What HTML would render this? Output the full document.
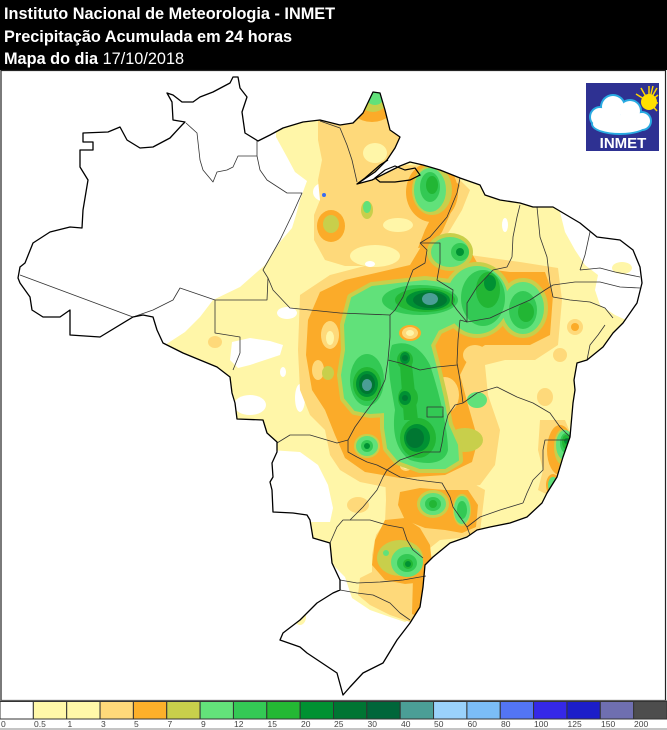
<!DOCTYPE html>
<html><head><meta charset="utf-8"><style>
html,body{margin:0;padding:0;background:#fff;}
svg{display:block;}
</style></head><body>
<svg width="667" height="730" viewBox="0 0 667 730" xmlns="http://www.w3.org/2000/svg">
<defs>
<polygon id="br" points="18,278 20,267 25,263 33,243 50,232 70,227 82,228 83,210 88,180 80,167 80,150 93,150 93,142 83,142 83,133 108,132 120,127 127,140 140,148 153,147 170,138 182,125 185,122 173,120 172,102 167,93 173,95 182,102 193,102 200,97 213,92 230,83 233,77 238,77 240,88 247,97 242,112 245,133 258,141 270,135 283,128 303,122 320,120 340,125 353,123 363,113 373,92 380,93 385,110 390,130 400,137 395,148 387,160 375,172 357,184 372,180 388,172 400,166 410,162 423,165 440,170 460,178 480,185 485,195 500,200 520,203 533,207 553,207 580,223 597,237 620,240 633,250 640,267 642,283 637,303 623,323 613,333 603,347 587,360 577,363 574,380 575,390 573,403 570,437 563,457 557,477 547,493 542,503 527,517 510,523 490,527 477,530 467,537 450,543 433,557 425,565 423,587 420,607 410,623 397,640 383,663 363,673 350,687 343,695 337,673 307,653 300,647 280,640 283,633 300,620 317,603 333,593 340,590 340,580 332,563 330,543 313,538 310,520 307,515 293,513 273,512 272,490 270,482 273,477 272,463 277,452 277,442 267,433 263,420 237,419 235,403 232,393 230,377 217,367 200,360 183,353 163,343 157,330 153,317 143,315 133,317 100,337 70,335 70,310 60,317 43,317 32,310 30,297 20,283"/>
<clipPath id="clip"><use href="#br"/></clipPath>
<path id="gmain" d="M352,298 L372,287 L398,284 L425,281 L450,284 L465,295 L466,312 L455,322 L438,330 L430,345 L436,368 L443,398 L448,425 L457,445 L458,460 L445,468 L420,468 L398,460 L388,448 L385,428 L385,412 L370,413 L355,410 L345,398 L342,375 L346,350 L345,325 Z"/>
<ellipse id="gtb" cx="477" cy="300" rx="30" ry="33"/>
<ellipse id="gpi" cx="523" cy="308" rx="20" ry="25"/>
</defs>

<!-- header -->
<rect x="0" y="0" width="667" height="70" fill="#000"/>
<g font-family="'Liberation Sans', Arial, sans-serif" font-size="16.3" fill="#fff" font-weight="bold">
<text x="4" y="19">Instituto Nacional de Meteorologia - INMET</text>
<text x="4" y="42">Precipitação Acumulada em 24 horas</text>
<text x="4" y="64">Mapa do dia <tspan font-weight="normal">17/10/2018</tspan></text>
</g>

<!-- map -->
<g clip-path="url(#clip)">
<rect x="0" y="70" width="667" height="630" fill="#fff6a8"/>
<!-- white NW -->
<path fill="#fff" d="M0,60 L276,60 L276,137 L287,157 L295,172 L307,181 L300,200 L296,215 L292,228 L280,242 L265,265 L240,287 L213,300 L200,317 L185,332 L165,345 L150,360 L0,360 Z"/>
<ellipse cx="323" cy="192" rx="10" ry="9" fill="#fff"/>
<ellipse cx="287" cy="313" rx="10" ry="6" fill="#fff"/>
<path fill="#fff" d="M232,342 L250,338 L270,341 L283,345 L280,355 L265,360 L250,365 L238,368 L230,360 Z"/>
<ellipse cx="283" cy="372" rx="3" ry="5" fill="#fff"/>
<ellipse cx="250" cy="405" rx="16" ry="10" fill="#fff"/>
<ellipse cx="300" cy="398" rx="5" ry="14" fill="#fff"/>
<path fill="#fff" d="M270,450 L300,452 L318,465 L328,485 L333,508 L330,522 L305,522 L272,512 Z"/>
<path fill="#fff" d="M270,620 L330,562 L345,577 L352,598 L370,610 L390,617 L405,622 L417,616 L428,640 L428,720 L270,720 Z"/>
<ellipse cx="300" cy="617" rx="6" ry="8" fill="#fff6a8"/>
<path fill="#fff" d="M560,212 L580,222 L598,237 L620,240 L633,250 L640,267 L642,283 L637,303 L626,320 L615,315 L600,305 L595,290 L598,275 L585,265 L575,250 L565,232 Z"/>
<ellipse cx="622" cy="268" rx="10" ry="6" fill="#fff6a8"/>
<ellipse cx="505" cy="225" rx="3" ry="7" fill="#fff"/>

<!-- light orange -->
<g fill="#fed97a">
<path d="M318,118 L345,118 L365,108 L375,90 L392,120 L402,140 L395,160 L380,176 L405,165 L430,166 L455,175 L470,190 L462,210 L450,230 L440,245 L425,255 L400,262 L370,266 L345,266 L325,260 L314,240 L314,215 L320,200 L318,180 L322,160 L318,140 Z"/>
<path d="M300,295 L330,275 L380,262 L430,250 L470,255 L520,262 L558,268 L562,300 L558,345 L535,360 L505,360 L485,365 L488,395 L500,430 L495,465 L480,485 L440,490 L400,490 L360,482 L340,470 L330,455 L325,430 L310,415 L300,390 L298,350 Z"/>
<path d="M385,470 L430,472 L470,482 L485,490 L480,532 L460,538 L440,540 L430,548 L433,565 L428,590 L425,615 L410,622 L390,615 L370,605 L358,595 L360,578 L372,572 L372,555 L376,535 L385,522 L386,500 Z"/>
<path d="M540,420 L565,420 L572,437 L563,460 L557,480 L548,495 L538,490 L543,470 L538,450 Z"/>
<ellipse cx="215" cy="342" rx="7" ry="6"/>
<ellipse cx="545" cy="397" rx="8" ry="9"/>
<ellipse cx="560" cy="355" rx="7" ry="7"/>
<ellipse cx="575" cy="327" rx="8" ry="8"/>
<ellipse cx="358" cy="505" rx="11" ry="8"/>
<ellipse cx="370" cy="470" rx="14" ry="8"/>
</g>
<g fill="#fff6a8">
<ellipse cx="375" cy="153" rx="12" ry="10"/>
<ellipse cx="398" cy="225" rx="15" ry="7"/>
<ellipse cx="375" cy="256" rx="25" ry="11"/>
<ellipse cx="400" cy="550" rx="4" ry="4"/>
</g>
<ellipse cx="370" cy="264" rx="5" ry="3" fill="#fff"/>

<!-- orange -->
<g fill="#fbab29">
<ellipse cx="372" cy="100" rx="25" ry="22"/>
<ellipse cx="331" cy="226" rx="14" ry="16"/>
<ellipse cx="432" cy="192" rx="26" ry="30"/>
<path d="M445,175 L460,185 L452,210 L442,232 L432,246 L418,248 L425,230 L435,210 Z"/>
<path d="M308,320 L320,292 L345,280 L380,272 L410,265 L425,240 L445,235 L470,250 L480,268 L510,272 L545,272 L553,295 L550,335 L530,345 L505,345 L485,345 L470,355 L460,375 L468,405 L478,440 L472,462 L445,475 L400,478 L365,472 L345,458 L335,435 L325,410 L312,390 L306,355 Z"/>
<path d="M400,492 L420,488 L445,490 L468,490 L478,505 L476,527 L462,533 L445,530 L425,528 L405,520 L398,505 Z"/>
<path d="M385,520 L405,518 L420,528 L430,545 L432,565 L425,582 L405,584 L385,580 L372,565 L375,540 Z"/>
<path d="M413,578 L426,578 L423,600 L420,617 L412,614 Z"/>
<ellipse cx="560" cy="450" rx="13" ry="25"/>
<ellipse cx="575" cy="327" rx="4" ry="4"/>
<ellipse cx="553" cy="485" rx="7" ry="11"/>
</g>
<!-- light patches inside orange -->
<g fill="#fed97a">
<ellipse cx="445" cy="395" rx="14" ry="18"/>
<ellipse cx="475" cy="355" rx="12" ry="10"/>
<ellipse cx="330" cy="335" rx="9" ry="14"/>
<ellipse cx="318" cy="370" rx="6" ry="10"/>
<ellipse cx="500" cy="265" rx="10" ry="5"/>
<ellipse cx="406" cy="466" rx="6" ry="5"/>
</g>
<g fill="#fff6a8">
<ellipse cx="440" cy="400" rx="8" ry="10"/>
<ellipse cx="495" cy="390" rx="7" ry="14"/>
<ellipse cx="330" cy="338" rx="4" ry="7"/>
<ellipse cx="406" cy="466" rx="3" ry="3"/>
</g>

<!-- olive -->
<g fill="#c8cf4b">
<ellipse cx="373" cy="96" rx="16" ry="16"/>
<ellipse cx="331" cy="224" rx="8" ry="9"/>
<ellipse cx="367" cy="210" rx="6" ry="9"/>
<ellipse cx="432" cy="190" rx="20" ry="25"/>
<ellipse cx="450" cy="252" rx="23" ry="19"/>
<ellipse cx="465" cy="440" rx="18" ry="12"/>
<ellipse cx="563" cy="447" rx="9" ry="18"/>
<ellipse cx="400" cy="558" rx="23" ry="18"/>
<ellipse cx="328" cy="373" rx="6" ry="7"/>
<ellipse cx="367" cy="446" rx="13" ry="12"/>
<ellipse cx="433" cy="504" rx="16" ry="14"/>
<ellipse cx="462" cy="510" rx="9" ry="16"/>
</g>
<g fill="#c8cf4b" stroke="#c8cf4b" stroke-width="10" stroke-linejoin="round">
<use href="#gmain"/><use href="#gtb"/><use href="#gpi"/>
</g>

<!-- green1 -->
<g fill="#61e17a" stroke="#61e17a" stroke-width="2" stroke-linejoin="round">
<use href="#gmain"/><use href="#gtb"/><use href="#gpi"/>
<ellipse cx="375" cy="92" rx="10" ry="12"/>
<ellipse cx="367" cy="207" rx="3" ry="5"/>
<ellipse cx="430" cy="190" rx="15" ry="21"/>
<ellipse cx="450" cy="252" rx="18" ry="14"/>
<ellipse cx="477" cy="400" rx="9" ry="7"/>
<ellipse cx="565" cy="445" rx="8" ry="14"/>
<ellipse cx="553" cy="485" rx="4" ry="7"/>
<ellipse cx="433" cy="504" rx="12" ry="10"/>
<ellipse cx="462" cy="510" rx="7" ry="13"/>
<ellipse cx="407" cy="562" rx="15" ry="14"/>
<ellipse cx="386" cy="553" rx="2" ry="2"/>
<ellipse cx="367" cy="446" rx="10" ry="9"/>
</g>
<!-- light patch between -->
<ellipse cx="410" cy="333" rx="11" ry="8" fill="#fbab29"/>
<ellipse cx="410" cy="333" rx="8" ry="6" fill="#fed97a"/>
<ellipse cx="410" cy="333" rx="4" ry="3" fill="#fff6a8"/>

<!-- green2 -->
<g fill="#33c954">
<ellipse cx="430" cy="187" rx="10" ry="15"/>
<ellipse cx="460" cy="252" rx="9" ry="9"/>
<ellipse cx="420" cy="300" rx="38" ry="15"/>
<ellipse cx="367" cy="380" rx="17" ry="26"/>
<path d="M392,345 C405,340 420,345 430,365 C440,395 448,430 448,450 C445,465 425,465 410,460 C395,450 392,430 395,410 C392,390 385,365 392,345 Z"/>
<ellipse cx="483" cy="298" rx="22" ry="28"/>
<ellipse cx="523" cy="310" rx="14" ry="19"/>
<ellipse cx="433" cy="504" rx="8" ry="7"/>
<ellipse cx="462" cy="510" rx="5" ry="9"/>
<ellipse cx="407" cy="563" rx="10" ry="9"/>
<ellipse cx="367" cy="446" rx="6" ry="6"/>
<ellipse cx="566" cy="443" rx="6" ry="10"/>
</g>
<!-- green3 -->
<g fill="#22b634">
<ellipse cx="432" cy="185" rx="6" ry="9"/>
<ellipse cx="425" cy="300" rx="30" ry="12"/>
<ellipse cx="367" cy="384" rx="14" ry="17"/>
<ellipse cx="405" cy="360" rx="8" ry="9"/>
<ellipse cx="408" cy="398" rx="10" ry="12"/>
<ellipse cx="418" cy="438" rx="18" ry="20"/>
<path d="M400,365 L412,365 L418,420 L404,420 Z"/>
<ellipse cx="488" cy="290" rx="12" ry="18"/>
<ellipse cx="526" cy="312" rx="8" ry="10"/>
<ellipse cx="433" cy="504" rx="4" ry="4"/>
<ellipse cx="566" cy="442" rx="4" ry="7"/>
<ellipse cx="408" cy="564" rx="5" ry="5"/>
</g>
<!-- green4 -->
<g fill="#009133">
<ellipse cx="428" cy="300" rx="22" ry="10"/>
<ellipse cx="367" cy="384" rx="11" ry="13"/>
<ellipse cx="405" cy="358" rx="5" ry="6"/>
<ellipse cx="405" cy="398" rx="6" ry="7"/>
<ellipse cx="417" cy="438" rx="13" ry="14"/>
<ellipse cx="490" cy="283" rx="6" ry="8"/>
<ellipse cx="408" cy="564" rx="3" ry="3"/>
<ellipse cx="460" cy="252" rx="4" ry="4"/>
<ellipse cx="367" cy="446" rx="3" ry="3"/>
<ellipse cx="567" cy="441" rx="3" ry="3"/>
</g>
<!-- green5 -->
<g fill="#007732">
<ellipse cx="430" cy="300" rx="17" ry="8"/>
<ellipse cx="367" cy="384" rx="8" ry="10"/>
<ellipse cx="405" cy="358" rx="3" ry="3"/>
<ellipse cx="405" cy="398" rx="3" ry="3"/>
<ellipse cx="415" cy="438" rx="9" ry="10"/>
</g>
<g fill="#4b9e96">
<ellipse cx="430" cy="299" rx="8" ry="6"/>
<ellipse cx="367" cy="385" rx="5" ry="6"/>
</g>
<circle cx="324" cy="195" r="2" fill="#3a6cf0"/>
</g>

<!-- state borders -->
<g fill="none" stroke="#333" stroke-width="0.8" stroke-linejoin="round">
<polyline points="20,275 133,317"/>
<polyline points="133,317 153,310 173,300 180,288 215,300"/>
<polyline points="186,123 197,133 200,160 203,170 213,182 217,172 227,170 233,167 238,156 257,156 257,141"/>
<polyline points="257,156 260,170 267,180 287,193 302,193 293,213 280,240 263,270 268,278 273,290 290,308 340,313 390,315"/>
<polyline points="268,278 267,300 215,300 215,333 240,337 240,353 233,370"/>
<polyline points="320,121 340,128 347,145 352,160 357,182"/>
<polyline points="460,178 457,193 447,217 430,237 420,243"/>
<polyline points="420,243 427,250 425,263 413,270 408,283 403,297 395,310 390,315 390,337 388,360 385,380 377,397 365,413 355,427 348,440 348,452 357,457 367,462 377,465 387,470"/>
<polyline points="420,243 440,243 440,263 437,280 453,290 452,303 457,310 467,322"/>
<polyline points="520,205 517,217 513,237 512,257 507,267 493,270 477,287 467,303 467,322"/>
<polyline points="537,207 540,237 547,257 550,283 553,297"/>
<polyline points="460,320 467,322 490,318 507,310 530,300 545,290 553,285"/>
<polyline points="553,297 570,300 590,302 605,308 613,318"/>
<polyline points="460,320 458,340 457,363 460,380 462,395 463,403"/>
<polyline points="388,360 400,363 420,370 437,367 457,365"/>
<polyline points="463,403 455,405 448,415 444,430 442,443 440,452 423,452 400,460 387,470"/>
<polyline points="463,403 477,393 497,387 517,397 533,403 550,413 560,427 570,437"/>
<polyline points="568,440 545,440 543,450 543,470 533,480 527,493 523,503"/>
<polyline points="523,503 500,510 480,517 467,527 460,517 453,507 450,497 442,483 417,480 400,477 387,470"/>
<polyline points="387,470 383,477 377,490 363,507 355,515 350,520 343,520 337,527 330,543"/>
<polyline points="350,520 370,520 387,525 403,528 407,540 413,550 423,558"/>
<polyline points="340,580 357,583 380,582 403,580 420,577 426,576"/>
<polyline points="340,590 357,593 373,595 390,603 400,613 410,620"/>
<polyline points="277,443 290,435 310,435 337,443 348,440"/>
<polyline points="467,527 470,535"/>
<polygon points="427,407 443,407 443,417 427,417"/>
<polyline points="590,232 585,255 580,270"/>
<polyline points="580,270 600,268 615,272 640,277"/>
<polyline points="553,285 575,282 600,282 620,287 640,288"/>
<polyline points="605,325 598,335 590,345 587,360"/>
</g>
<!-- delta islands -->
<g fill="none" stroke="#000" stroke-width="1.2">
<polyline points="357,184 365,178 372,172 380,165 388,160"/>
<polygon points="375,178 385,170 395,166 405,170 415,168 420,175 410,180 395,182 380,182"/>
</g>
<use href="#br" fill="none" stroke="#000" stroke-width="1.3" stroke-linejoin="round"/>

<!-- frame -->
<rect x="1" y="70.5" width="664.5" height="630" fill="none" stroke="#222" stroke-width="1.2"/>

<!-- logo -->
<rect x="586" y="83" width="73" height="68" fill="#2e3192"/>
<g stroke="#ffd600" stroke-width="1.5">
<line x1="649" y1="102" x2="649" y2="86"/><line x1="649" y1="102" x2="657" y2="88"/>
<line x1="649" y1="102" x2="658" y2="95"/><line x1="649" y1="102" x2="658" y2="103"/>
<line x1="649" y1="102" x2="657" y2="111"/><line x1="649" y1="102" x2="641" y2="88"/>
<line x1="649" y1="102" x2="636" y2="94"/><line x1="649" y1="102" x2="653" y2="86"/>
</g>
<circle cx="649" cy="102" r="8" fill="#ffe000"/>
<g fill="#29abe2">
<circle cx="600" cy="117" r="11"/><circle cx="613" cy="107" r="13"/>
<circle cx="630" cy="111" r="12"/><circle cx="642" cy="121" r="10"/>
<ellipse cx="620" cy="124" rx="29" ry="11"/>
</g>
<g fill="#fff">
<circle cx="600" cy="117" r="9"/><circle cx="613" cy="107" r="11"/>
<circle cx="630" cy="111" r="10"/><circle cx="642" cy="121" r="8"/>
<ellipse cx="620" cy="124" rx="27" ry="9"/>
</g>
<text x="623" y="148" text-anchor="middle" font-family="'Liberation Sans', Arial, sans-serif" font-weight="bold" font-size="15" fill="#fff">INMET</text>

<!-- legend -->
<line x1="0" y1="701" x2="667" y2="701" stroke="#777" stroke-width="1.5"/>
<g stroke="#333" stroke-width="1">
<rect x="0" y="701.5" width="33.35" height="17.5" fill="#ffffff"/>
<rect x="33.35" y="701.5" width="33.35" height="17.5" fill="#fff8a9"/>
<rect x="66.7" y="701.5" width="33.35" height="17.5" fill="#fff8a9"/>
<rect x="100.05" y="701.5" width="33.35" height="17.5" fill="#ffd97a"/>
<rect x="133.4" y="701.5" width="33.35" height="17.5" fill="#fdb02a"/>
<rect x="166.75" y="701.5" width="33.35" height="17.5" fill="#c8cf4b"/>
<rect x="200.1" y="701.5" width="33.35" height="17.5" fill="#63e27a"/>
<rect x="233.45" y="701.5" width="33.35" height="17.5" fill="#34c955"/>
<rect x="266.8" y="701.5" width="33.35" height="17.5" fill="#24b834"/>
<rect x="300.15" y="701.5" width="33.35" height="17.5" fill="#009132"/>
<rect x="333.5" y="701.5" width="33.35" height="17.5" fill="#007533"/>
<rect x="366.85" y="701.5" width="33.35" height="17.5" fill="#00663a"/>
<rect x="400.2" y="701.5" width="33.35" height="17.5" fill="#4b9e96"/>
<rect x="433.55" y="701.5" width="33.35" height="17.5" fill="#9ad2fb"/>
<rect x="466.9" y="701.5" width="33.35" height="17.5" fill="#7bbdf7"/>
<rect x="500.25" y="701.5" width="33.35" height="17.5" fill="#5375f5"/>
<rect x="533.6" y="701.5" width="33.35" height="17.5" fill="#3528e8"/>
<rect x="566.95" y="701.5" width="33.35" height="17.5" fill="#1c1ec9"/>
<rect x="600.3" y="701.5" width="33.35" height="17.5" fill="#6f6fb0"/>
<rect x="633.65" y="701.5" width="33.35" height="17.5" fill="#4d4d4d"/>
</g>
<g font-family="'Liberation Sans', Arial, sans-serif" font-size="8.5" fill="#444">
<text x="1" y="727">0</text><text x="34" y="727">0.5</text><text x="67.5" y="727">1</text>
<text x="101" y="727">3</text><text x="134" y="727">5</text><text x="167.5" y="727">7</text>
<text x="201" y="727">9</text><text x="234" y="727">12</text><text x="267.5" y="727">15</text>
<text x="301" y="727">20</text><text x="334" y="727">25</text><text x="367.5" y="727">30</text>
<text x="401" y="727">40</text><text x="434" y="727">50</text><text x="467.5" y="727">60</text>
<text x="501" y="727">80</text><text x="534" y="727">100</text><text x="567.5" y="727">125</text>
<text x="601" y="727">150</text><text x="634" y="727">200</text>
</g>
<line x1="0" y1="729" x2="667" y2="729" stroke="#888" stroke-width="1"/>
</svg>
</body></html>
